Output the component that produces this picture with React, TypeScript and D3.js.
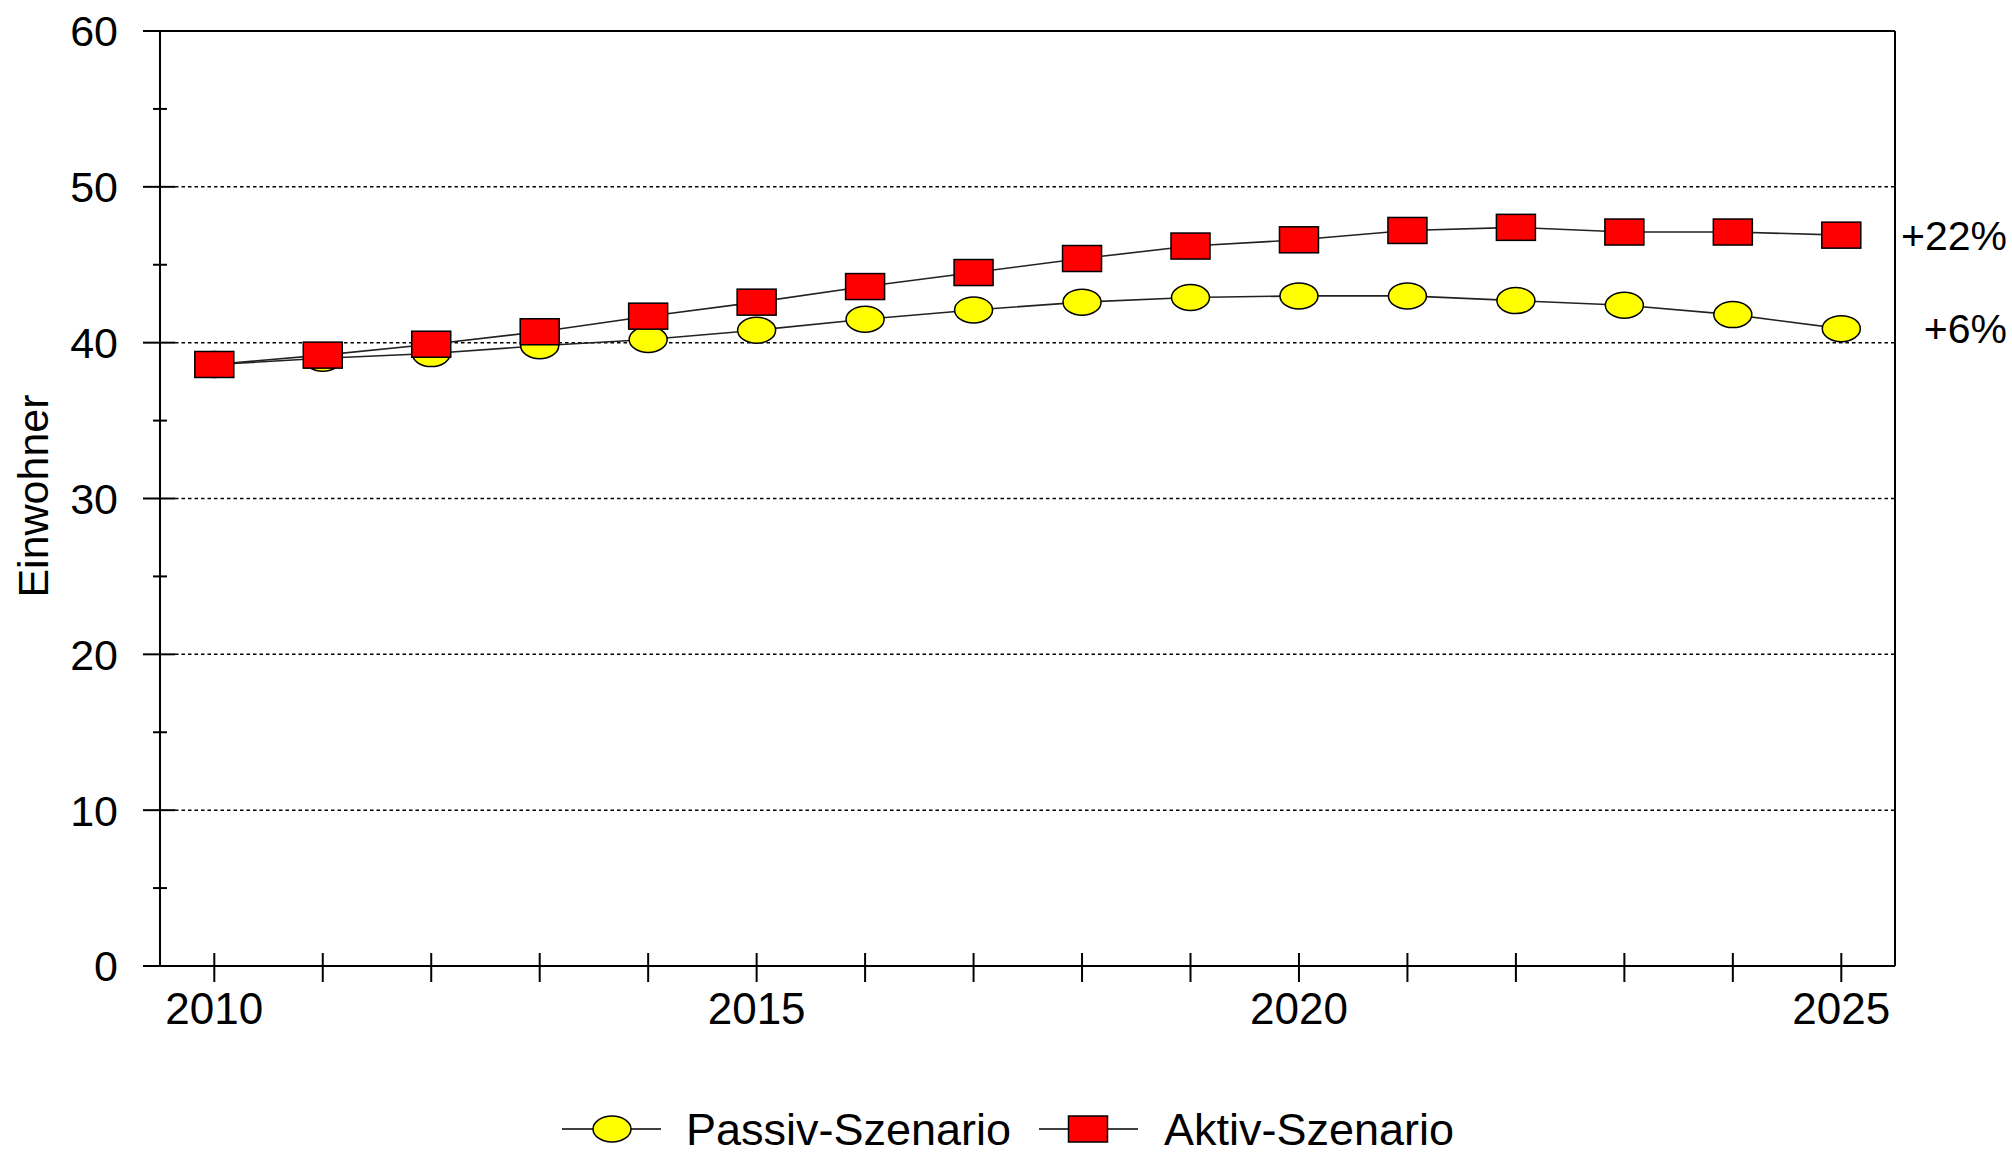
import React from "react";
import * as d3 from "d3";

const years = [2010, 2011, 2012, 2013, 2014, 2015, 2016, 2017, 2018, 2019, 2020, 2021, 2022, 2023, 2024, 2025];
const passiv = [38.6, 39.0, 39.3, 39.8, 40.2, 40.8, 41.5, 42.1, 42.6, 42.9, 43.0, 43.0, 42.7, 42.4, 41.8, 40.9];
const aktiv = [38.6, 39.2, 39.9, 40.7, 41.7, 42.6, 43.6, 44.5, 45.4, 46.2, 46.6, 47.2, 47.4, 47.1, 47.1, 46.9];
const yTicks = [0, 10, 20, 30, 40, 50, 60];
const yMinor = [5, 15, 25, 35, 45, 55];
const xLabels = [2010, 2015, 2020, 2025];
const endLabels = ["+6%", "+22%"];
const seriesNames = ["Passiv-Szenario", "Aktiv-Szenario"];
const yTitle = "Einwohner";

const W = 2012;
const H = 1152;
const FONT = "'Liberation Sans', Arial, sans-serif";

export default function App() {
  const x = d3.scaleLinear().domain([2010, 2025]).range([214.3, 1841.3]);
  const y = d3.scaleLinear().domain([0, 60]).range([966, 31]);
  const plotL = 160;
  const plotR = 1895;
  const line = d3
    .line<number>()
    .x((_, i) => x(years[i]))
    .y((d) => y(d));

  return (
    <div style={{ position: "absolute", left: 0, top: 0 }}>
      <svg width={W} height={H} style={{ display: "block", background: "#fff", overflow: "visible" }}>
        {/* grid */}
        {yTicks
          .filter((t) => t > 0 && t < 60)
          .map((t) => (
            <line key={"g" + t} x1={175} x2={plotR} y1={y(t)} y2={y(t)} stroke="#000" strokeWidth={1.5} strokeDasharray="3.5,3" />
          ))}
        {/* frame */}
        <line x1={143} x2={plotR} y1={y(60)} y2={y(60)} stroke="#000" strokeWidth={2} />
        <line x1={143} x2={plotR} y1={y(0)} y2={y(0)} stroke="#000" strokeWidth={2} />
        <line x1={plotL} x2={plotL} y1={y(60)} y2={y(0)} stroke="#000" strokeWidth={2} />
        <line x1={plotR} x2={plotR} y1={y(60)} y2={y(0)} stroke="#000" strokeWidth={2} />
        {/* y ticks */}
        {yTicks.map((t) => (
          <g key={"yt" + t}>
            <line x1={143} x2={175} y1={y(t)} y2={y(t)} stroke="#000" strokeWidth={2} />
            <text x={118} y={y(t)} dy="0.36em" textAnchor="end" fontFamily={FONT} fontSize={43} fill="#000">
              {t}
            </text>
          </g>
        ))}
        {yMinor.map((t) => (
          <line key={"ym" + t} x1={153} x2={167} y1={y(t)} y2={y(t)} stroke="#000" strokeWidth={2} />
        ))}
        {/* x ticks */}
        {years.map((yr) => (
          <line key={"xt" + yr} x1={x(yr)} x2={x(yr)} y1={953} y2={982} stroke="#000" strokeWidth={2} />
        ))}
        {xLabels.map((yr) => (
          <text key={"xl" + yr} x={x(yr)} y={1024} textAnchor="middle" fontFamily={FONT} fontSize={44} fill="#000">
            {yr}
          </text>
        ))}
        {/* y title */}
        <text
          transform={`translate(48,${496}) rotate(-90)`}
          textAnchor="middle"
          fontFamily={FONT}
          fontSize={43}
          fill="#000"
        >
          {yTitle}
        </text>
        {/* lines */}
        <path d={line(passiv) || ""} fill="none" stroke="#222" strokeWidth={1.6} />
        <path d={line(aktiv) || ""} fill="none" stroke="#222" strokeWidth={1.6} />
        {/* markers */}
        {passiv.map((v, i) => (
          <ellipse key={"p" + i} cx={x(years[i])} cy={y(v)} rx={19} ry={13} fill="#ffff00" stroke="#000" strokeWidth={1.5} />
        ))}
        {aktiv.map((v, i) => (
          <rect key={"a" + i} x={x(years[i]) - 19.5} y={y(v) - 13} width={39} height={26} fill="#ff0000" stroke="#000" strokeWidth={1.5} />
        ))}
        {/* end labels */}
        <text x={2007} y={y(passiv[passiv.length - 1])} dy="0.36em" textAnchor="end" fontFamily={FONT} fontSize={41} fill="#000">
          {endLabels[0]}
        </text>
        <text x={2007} y={y(aktiv[aktiv.length - 1])} dy="0.36em" textAnchor="end" fontFamily={FONT} fontSize={41} fill="#000">
          {endLabels[1]}
        </text>
        {/* legend */}
        <g>
          <line x1={562} x2={661} y1={1129} y2={1129} stroke="#000" strokeWidth={1.6} />
          <ellipse cx={612} cy={1129} rx={19} ry={13} fill="#ffff00" stroke="#000" strokeWidth={1.5} />
          <text x={686} y={1129} dy="0.36em" fontFamily={FONT} fontSize={45} fill="#000">
            {seriesNames[0]}
          </text>
          <line x1={1039} x2={1138} y1={1129} y2={1129} stroke="#000" strokeWidth={1.6} />
          <rect x={1088 - 19.5} y={1129 - 13} width={39} height={26} fill="#ff0000" stroke="#000" strokeWidth={1.5} />
          <text x={1164} y={1129} dy="0.36em" fontFamily={FONT} fontSize={45} fill="#000">
            {seriesNames[1]}
          </text>
        </g>
      </svg>
    </div>
  );
}
